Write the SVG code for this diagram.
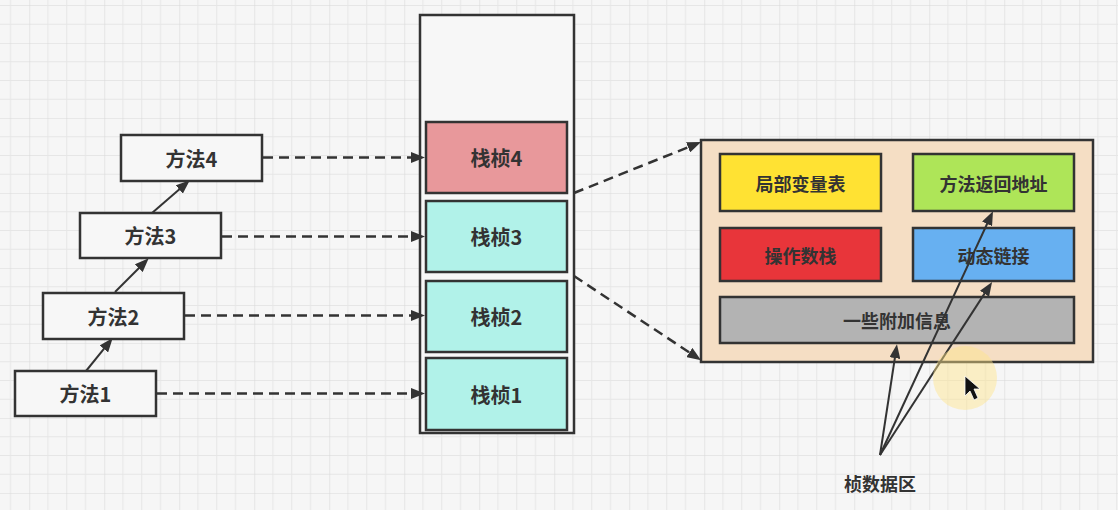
<svg xmlns="http://www.w3.org/2000/svg" width="1118" height="510" viewBox="0 0 1118 510">
<style>
.box{stroke:#333;stroke-width:2.5}
.lbl{font-family:"Noto Sans CJK SC","Noto Sans",sans-serif;font-weight:bold;fill:#333;text-anchor:middle;dominant-baseline:central}
.m{font-size:20px}
.s{font-size:18px}
.dash{fill:none;stroke:#333;stroke-width:2.5;stroke-dasharray:10 6}
.solid{fill:none;stroke:#333;stroke-width:2}
</style>
<defs>
<pattern id="grid" width="75" height="75" patternUnits="userSpaceOnUse" patternTransform="translate(29.25,43)">
<path d="M18.75 0V75M37.5 0V75M56.25 0V75M0 18.75H75M0 37.5H75M0 56.25H75" stroke="#E6E6E6" stroke-width="1" fill="none"/>
<path d="M0 0V75M0 0H75" stroke="#D9D9D9" stroke-width="1.2" fill="none"/>
</pattern>
<marker id="ah" markerUnits="userSpaceOnUse" markerWidth="14" markerHeight="11" refX="1" refY="5.5" orient="auto">
<path d="M0,0 L14,5.5 L0,11 z" fill="#333"/>
</marker>
</defs>
<rect width="1118" height="510" fill="#F6F6F6"/>
<rect width="1118" height="510" fill="url(#grid)"/>

<g id="methods">
<g id="m4"><rect class="box" x="121" y="135" width="141" height="46" fill="#F7F7F7"/><text class="lbl m" x="191.5" y="158">方法4</text></g>
<g id="m3"><rect class="box" x="80" y="213" width="141" height="45" fill="#F7F7F7"/><text class="lbl m" x="150.5" y="235.5">方法3</text></g>
<g id="m2"><rect class="box" x="43" y="293" width="141" height="46" fill="#F7F7F7"/><text class="lbl m" x="113.5" y="316">方法2</text></g>
<g id="m1"><rect class="box" x="15" y="371" width="141" height="45" fill="#F7F7F7"/><text class="lbl m" x="85.5" y="393.5">方法1</text></g>
</g>

<g id="stack">
<rect class="box" x="420" y="15" width="154" height="418" fill="#F7F7F7"/>
<g id="f4"><rect class="box" x="426" y="122" width="141" height="71" fill="#E8989B"/><text class="lbl m" x="496.5" y="157.5">栈桢4</text></g>
<g id="f3"><rect class="box" x="426" y="201" width="141" height="71" fill="#B1F2E9"/><text class="lbl m" x="496.5" y="236.5">栈桢3</text></g>
<g id="f2"><rect class="box" x="426" y="281" width="141" height="71" fill="#B1F2E9"/><text class="lbl m" x="496.5" y="316.5">栈桢2</text></g>
<g id="f1"><rect class="box" x="426" y="358" width="141" height="72" fill="#B1F2E9"/><text class="lbl m" x="496.5" y="394">栈桢1</text></g>
</g>

<g id="detail">
<rect class="box" x="701" y="140" width="392" height="222" fill="#F5DEC4"/>
<g id="lvt"><rect class="box" x="720" y="154" width="161" height="57" fill="#FFE233"/><text class="lbl s" x="800.5" y="182.5">局部变量表</text></g>
<g id="ret"><rect class="box" x="913" y="154" width="161" height="57" fill="#AEE558"/><text class="lbl s" x="993.5" y="182.5">方法返回地址</text></g>
<g id="ops"><rect class="box" x="720" y="228" width="161" height="53" fill="#E8353A"/><text class="lbl s" x="800.5" y="255">操作数栈</text></g>
<g id="dyn"><rect class="box" x="913" y="228" width="161" height="53" fill="#67B0F1"/><text class="lbl s" x="993.5" y="255">动态链接</text></g>
<g id="extra"><rect class="box" x="720" y="297" width="354" height="46" fill="#B3B3B3"/><text class="lbl s" x="897" y="320">一些附加信息</text></g>
</g>

<g id="area"><text class="lbl s" x="880" y="483">桢数据区</text></g>

<g id="connectors">
<line class="solid" x1="86" y1="371" x2="104.5" y2="348.2" marker-end="url(#ah)"/>
<line class="solid" x1="115" y1="292" x2="139.5" y2="267.5" marker-end="url(#ah)"/>
<line class="solid" x1="152" y1="213" x2="180" y2="188.8" marker-end="url(#ah)"/>
<line class="dash" x1="263" y1="157.5" x2="412" y2="157.5" marker-end="url(#ah)"/>
<line class="dash" x1="222" y1="236.5" x2="412" y2="236.5" marker-end="url(#ah)"/>
<line class="dash" x1="185" y1="315.5" x2="412" y2="315.5" marker-end="url(#ah)"/>
<line class="dash" x1="157" y1="393.5" x2="412" y2="393.5" marker-end="url(#ah)"/>
<line class="dash" x1="574" y1="193" x2="689" y2="146.9" marker-end="url(#ah)"/>
<line class="dash" x1="574" y1="276" x2="690.2" y2="353" marker-end="url(#ah)"/>
<line class="solid" x1="880" y1="455" x2="895" y2="357.1" marker-end="url(#ah)"/>
<line class="solid" x1="880" y1="455" x2="987.5" y2="223" marker-end="url(#ah)"/>
<line class="solid" x1="880" y1="455" x2="985" y2="292.9" marker-end="url(#ah)"/>
</g>

<circle cx="965" cy="378" r="32" fill="#FFE58A" fill-opacity="0.45"/>
<path d="M965 376 L965 396 L970 391 L974 400 L978 398 L974 389 L980 389 Z" fill="#111" stroke="#fff" stroke-width="0.8"/>
</svg>
